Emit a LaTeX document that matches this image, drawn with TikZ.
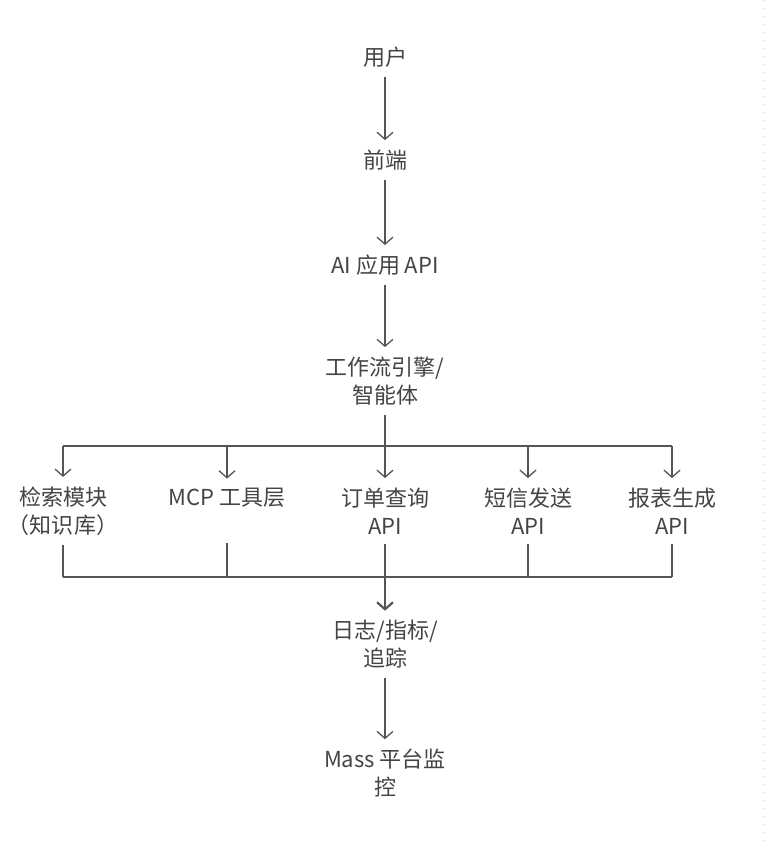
\documentclass[tikz,border=0pt]{standalone}
\usepackage{fontspec}
\setmainfont{Noto Sans CJK SC}
\usetikzlibrary{arrows.meta}
\definecolor{txt}{HTML}{444444}
\definecolor{ln}{HTML}{555555}
\tikzset{
  lbl/.style={font=\fontsize{22pt}{28pt}\selectfont, text=txt, align=center, inner xsep=0pt, inner ysep=9.5pt},
  arr/.style={draw=ln, line width=1.3pt, -{Straight Barb[length=7pt,width=16pt,line width=1.3pt]}},
  seg/.style={draw=ln, line width=1.3pt},
  thick arr/.style={draw=ln, line width=2.2pt, -{Straight Barb[length=7pt,width=16pt,line width=2.2pt]}},
  thick seg/.style={draw=ln, line width=2.2pt},
}
\begin{document}
\begin{tikzpicture}[x=1pt,y=-1pt]
\useasboundingbox (0,0) rectangle (770,848);
\fill[white] (0,0) rectangle (770,848);
\draw[gray!35, line width=1pt, dash pattern=on 1pt off 7pt] (763,0) -- (763,848);

\node[lbl] (u) at (385,57) {用户};
\node[lbl] (f) at (385,160) {前端};
\node[lbl] (ai) at (385,265) {AI 应用 API};
\node[lbl] (wf) at (385,381) {工作流引擎/\\智能体};

\node[lbl] (c1) at (63,511) {检索模块\\（知识库）};
\node[lbl] (c2) at (227,511) {MCP 工具层\\\mbox{}};
\node[lbl] (c3) at (385,511) {订单查询\\API};
\node[lbl] (c4) at (528,511) {短信发送\\API};
\node[lbl] (c5) at (672,511) {报表生成\\API};

\node[lbl] (lg) at (385,644.5) {日志/指标/\\追踪};
\node[lbl] (ms) at (385,773) {Mass 平台监\\控};

\draw[arr] (u) -- (f);
\draw[arr] (f) -- (ai);
\draw[arr] (ai) -- (wf);

\coordinate (s) at (385,446);
\coordinate (sl) at (63,446);
\coordinate (sr) at (672,446);
\draw[seg] (wf) -- (s);
\draw[seg] (sl) -- (sr);
\foreach \c in {c1,c2,c3,c4,c5} {
  \draw[arr] (\c.north |- s) -- (\c);
}

\coordinate (m) at (385,577);
\coordinate (ml) at (63,577);
\coordinate (mr) at (672,577);
\draw[seg] (ml) -- (mr);
\foreach \c in {c1,c2,c4,c5} {
  \draw[seg] (\c) -- (\c.south |- m);
}
\draw[thick seg] (c3) -- (m);
\draw[thick arr] (m) -- (lg);
\draw[arr] (lg) -- (ms);
\end{tikzpicture}
\end{document}
